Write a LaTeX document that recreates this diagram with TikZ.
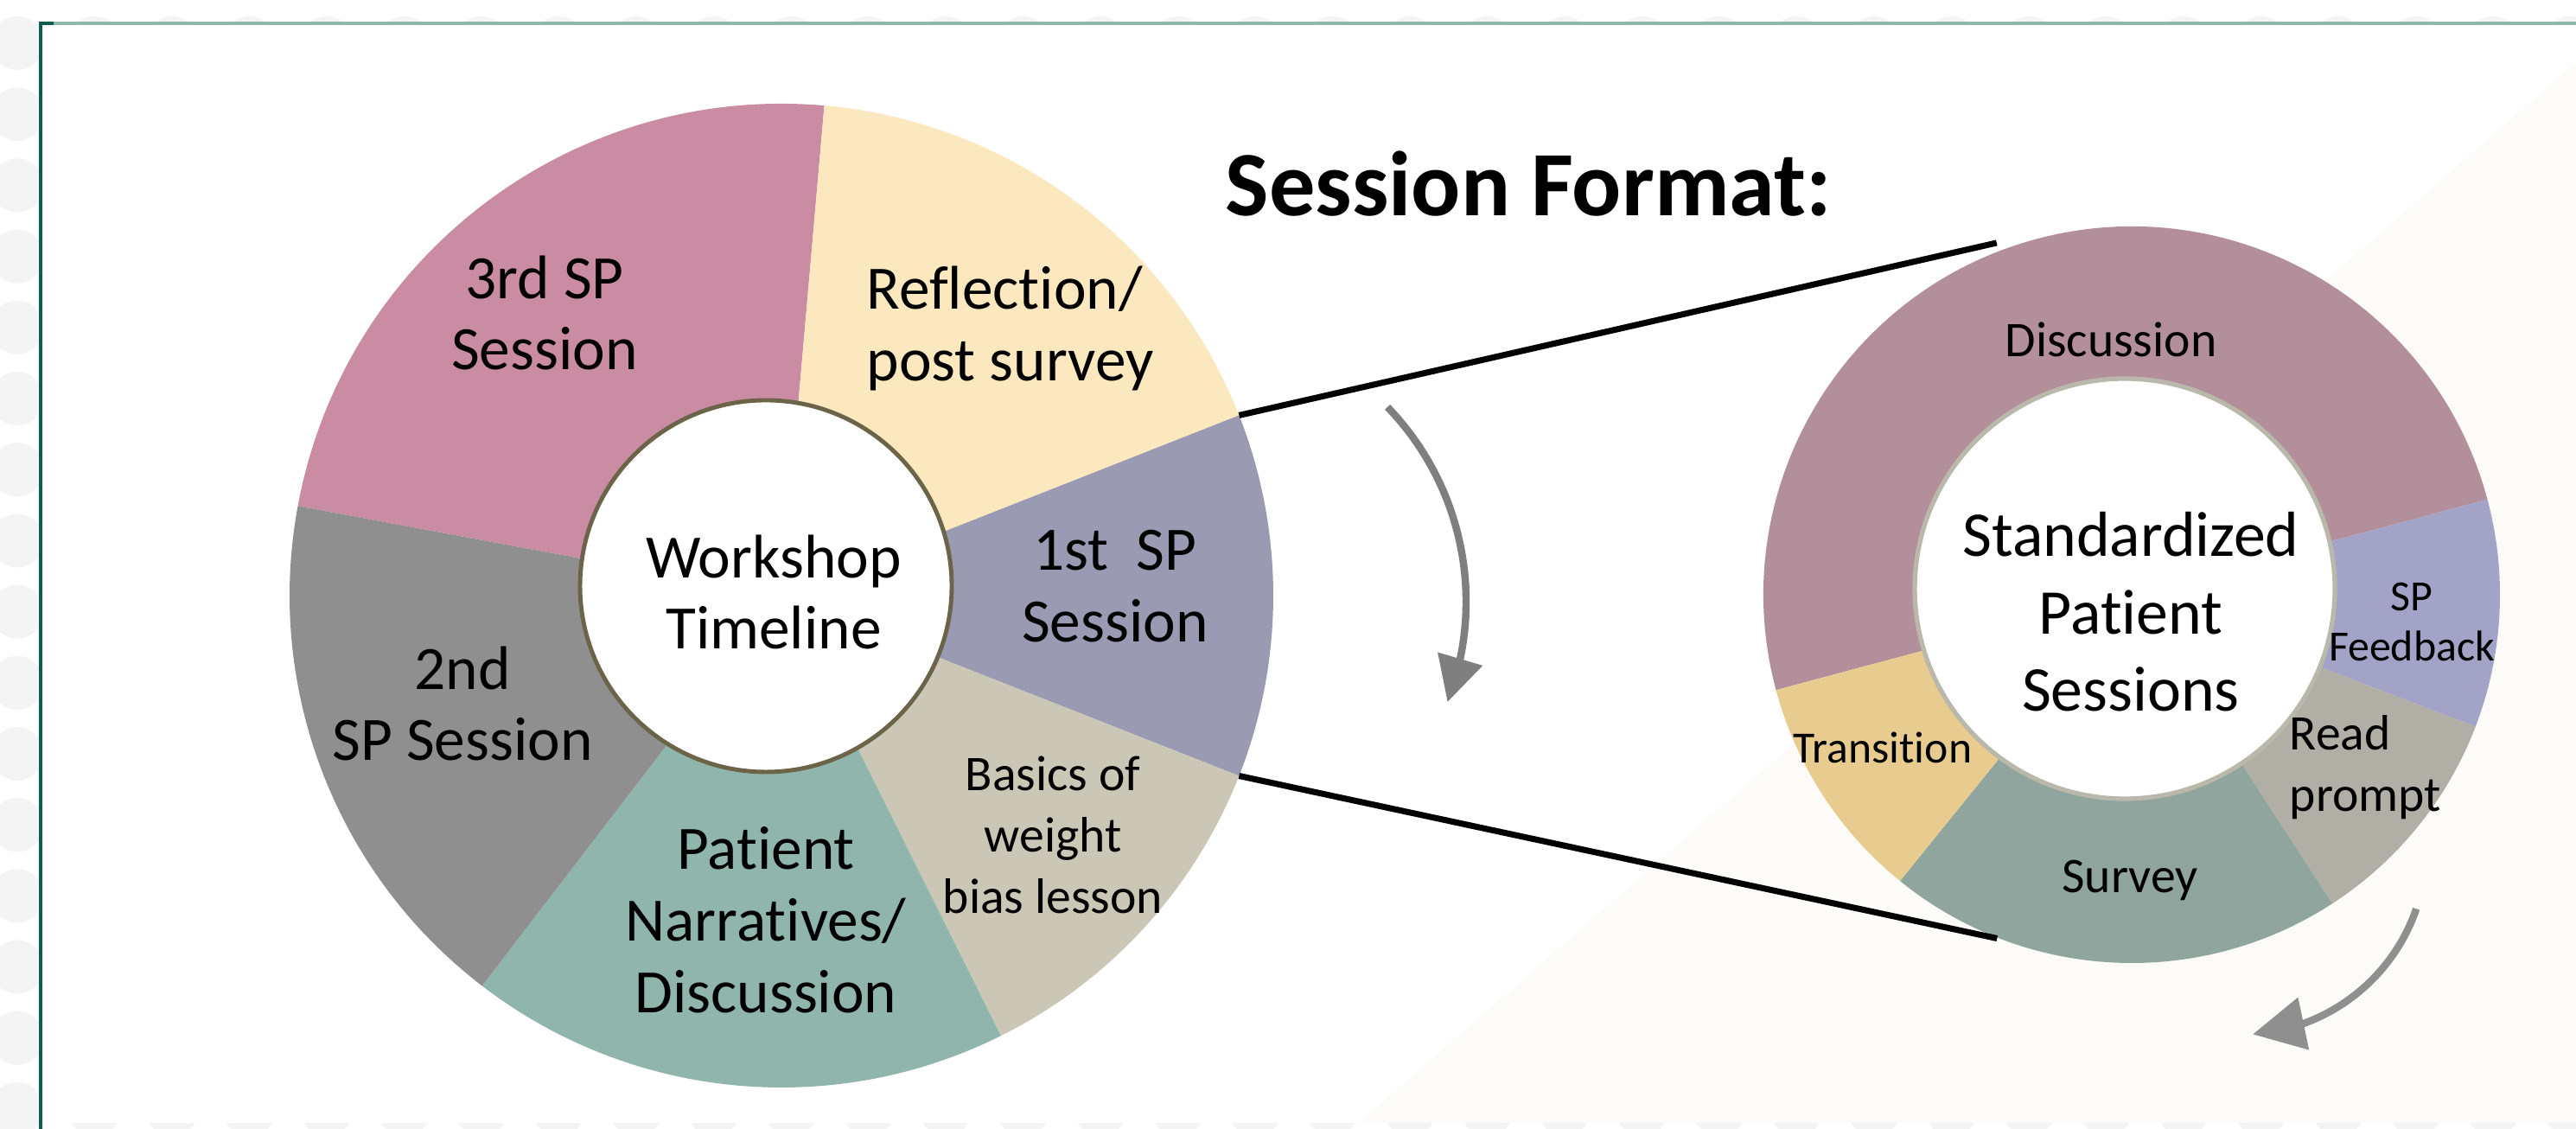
\documentclass[tikz,border=0pt]{standalone}
\usepackage{fontspec}
\setmainfont{Carlito}[Ligatures=CommonOff]
\usetikzlibrary{arrows.meta,bending}

%Farben
\definecolor{rosa}{HTML}{C98CA3}
\definecolor{hellgelb}{HTML}{FCE8BF}
\definecolor{lila}{HTML}{9A9AB2}
\definecolor{sand}{HTML}{CBC7B6}
\definecolor{petrol}{HTML}{8FB5AC}
\definecolor{grau}{HTML}{8F8F8F}
\definecolor{altrosa}{HTML}{B38E9B}
\definecolor{flieder}{HTML}{A3A3C8}
\definecolor{stein}{HTML}{B1AFA5}
\definecolor{graugruen}{HTML}{8FA59E}
\definecolor{ocker}{HTML}{E8CC8F}
\definecolor{rahmen}{HTML}{0E5E50}
\definecolor{rahmenhell}{HTML}{8DB9AD}
\definecolor{creme}{HTML}{FCFBF8}
\definecolor{punkt}{HTML}{F4F4F4}
\definecolor{olivrand}{HTML}{6B6449}
\definecolor{grauring}{HTML}{BAB7AB}
\definecolor{pfeilgrau}{HTML}{7F7F7F}
\definecolor{pfeilhell}{HTML}{8F8F8F}

\tikzset{
  gross/.style={font=\fontsize{20.3}{23.6}\selectfont, align=center, inner sep=0pt},
  mittel/.style={font=\fontsize{16.4}{20.2}\selectfont, align=center, inner sep=0pt},
  klein/.style={font=\fontsize{14.2}{16.5}\selectfont, align=center, inner sep=0pt},
  verbindung/.style={line width=2pt, black},
  drehpfeil/.style={line width=2.4pt, -{Triangle[length=#1,width=#1]}},
}

\begin{document}
\begin{tikzpicture}
        \useasboundingbox (0,0) rectangle (29.8,13.06);

        %Hintergrund
        \foreach \i in {0,...,33}
          \foreach \j in {0,...,15}
            \fill[punkt] ({0.20+0.895*\i},{12.56-0.822*\j}) circle (0.31);
        \fill[white] (0.47,0.07) rectangle (29.8,12.79);
        \fill[creme] (15.72,0.07) -- (29.8,12.33) -- (29.8,0.07) -- cycle;
        \draw[rahmenhell, line width=1.4pt] (0.47,12.79) -- (29.8,12.79);
        \draw[rahmen, line width=1.4pt] (0.62,12.79) -- (0.47,12.79) -- (0.47,0);

        \coordinate (L) at (9.04,6.17);                %Mitte linker Ring
        \coordinate (R) at (24.66,6.18);               %Mitte rechter Ring

        %linker Ring
        \fill[rosa]     (L) -- ++(85:5.69) arc (85:169.5:5.69) -- cycle;
        \fill[hellgelb] (L) -- ++(21.5:5.69) arc (21.5:85:5.69) -- cycle;
        \fill[lila]     (L) -- ++(-21.5:5.69) arc (-21.5:21.5:5.69) -- cycle;
        \fill[sand]     (L) -- ++(-63.5:5.69) arc (-63.5:-21.5:5.69) -- cycle;
        \fill[petrol]   (L) -- ++(-127.5:5.69) arc (-127.5:-63.5:5.69) -- cycle;
        \fill[grau]     (L) -- ++(169.5:5.69) arc (169.5:232.5:5.69) -- cycle;
        \draw[olivrand, line width=1.4pt, fill=white] (8.86,6.28) circle (2.15);   %innerer Kreis

        %rechter Ring
        \fill[altrosa]   (R) -- ++(15:4.26) arc (15:195:4.26) -- cycle;
        \fill[flieder]   (R) -- ++(-21:4.26) arc (-21:15:4.26) -- cycle;
        \fill[stein]     (R) -- ++(-57:4.26) arc (-57:-21:4.26) -- cycle;
        \fill[graugruen] (R) -- ++(-129:4.26) arc (-129:-57:4.26) -- cycle;
        \fill[ocker]     (R) -- ++(195:4.26) arc (195:231:4.26) -- cycle;
        \draw[grauring, line width=1.5pt, fill=white] (24.58,6.25) circle (2.43);  %innerer Kreis

        %Verbindungslinien
        \coordinate (lo) at ([shift={(21.5:5.69)}]L);
        \coordinate (lu) at ([shift={(-21.5:5.69)}]L);
        \coordinate (ro) at ([shift={(111:4.36)}]R);
        \coordinate (ru) at ([shift={(-111.4:4.27)}]R);
        \draw[verbindung] (lo) -- (ro);
        \draw[verbindung] (lu) -- (ru);

        %Pfeile
        \coordinate (p1) at ([shift={(44:3.24)}]13.72,6.10);
        \coordinate (p2) at ([shift={(-19:2.16)}]25.91,3.25);
        \draw[drehpfeil=0.52cm, pfeilgrau] (p1) arc (44:-21:3.24);
        \draw[drehpfeil=0.6cm, pfeilhell] (p2) arc (-19:-86:2.16);

        %Beschriftung
        \node[font=\fontsize{30.3}{36}\selectfont\bfseries, anchor=base, inner sep=0pt] (titel) at (17.68,10.56) {Session Format:};

        \node[gross] (werkstatt) at (8.95,6.21) {Workshop\\Timeline};
        \node[gross] (dritte) at (6.30,9.44) {3rd SP\\Session};
        \node[gross, align=left, anchor=west] (reflexion) at (10.02,9.26) {Reflection/\\post survey};
        \node[gross] (erste) at (12.90,6.28) {1st\ \ SP\\Session};
        \node[gross] (zweite) at (5.35,4.92) {2nd\\SP Session};
        \node[gross] (erzaehlung) at (8.86,2.42) {Patient\\Narratives/\\Discussion};
        \node[mittel] (basis) at (12.18,3.40) {Basics of\\weight\\bias lesson};

        \node[font=\fontsize{21}{25.5}\selectfont, align=center, inner sep=0pt] (sitzung) at (24.65,5.98) {Standardized\\Patient\\Sessions};
        \node[mittel, anchor=base] (diskussion) at (24.42,8.93) {Discussion};
        \node[klein] (rueckmeldung) at (27.90,5.86) {SP\\Feedback};
        \node[mittel, align=left, anchor=west] (lesen) at (26.48,4.18) {Read\\prompt};
        \node[klein, font=\fontsize{14.7}{17}\selectfont, anchor=base] (uebergang) at (21.78,4.23) {Transition};
        \node[mittel, anchor=base] (umfrage) at (24.64,2.73) {Survey};
    \end{tikzpicture}
\end{document}
